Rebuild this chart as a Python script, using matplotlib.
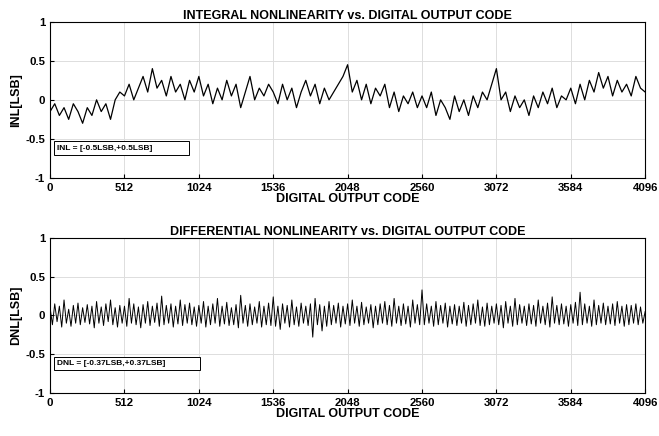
import numpy as np
import matplotlib
matplotlib.use("Agg")
import matplotlib.pyplot as plt

plt.rcParams['font.family'] = ['Liberation Sans', 'DejaVu Sans']

inl_step = 32
inl = [-0.15,-0.05,-0.2,-0.1,-0.25,-0.05,-0.15,-0.3,-0.1,-0.2,0.0,-0.15,-0.05,-0.25,0.0,0.1,
       0.05,0.2,0.0,0.15,0.3,0.1,0.4,0.15,0.25,0.05,0.3,0.1,0.2,0.0,0.25,0.1,
       0.3,0.05,0.2,-0.05,0.15,0.0,0.25,0.05,0.2,-0.1,0.1,0.3,0.0,0.15,0.05,0.2,
       0.1,-0.05,0.2,0.0,0.15,-0.1,0.1,0.25,0.05,0.2,-0.05,0.15,0.0,0.1,0.2,0.3,
       0.45,0.1,0.25,0.0,0.2,-0.05,0.15,0.05,0.2,-0.1,0.1,-0.15,0.05,-0.05,0.1,-0.1,
       0.05,-0.1,0.1,-0.2,0.0,-0.1,-0.25,0.05,-0.15,0.0,-0.2,0.05,-0.1,0.1,0.0,0.2,
       0.4,0.0,0.1,-0.15,0.05,-0.1,0.0,-0.2,0.05,-0.1,0.1,-0.05,0.15,-0.1,0.05,0.0,
       0.15,-0.05,0.2,0.0,0.25,0.1,0.35,0.15,0.3,0.05,0.25,0.1,0.2,0.05,0.3,0.15,0.1]

dnl_step = 16
dnl = [0.1,-0.12,0.15,-0.08,0.12,-0.15,0.2,-0.1,0.08,-0.14,0.13,-0.1,0.16,-0.12,0.1,-0.09,
       0.14,-0.11,0.12,-0.16,0.18,-0.1,0.11,-0.13,0.15,-0.08,0.2,-0.12,0.1,-0.15,0.13,-0.1,
       0.12,-0.14,0.22,-0.1,0.15,-0.12,0.11,-0.16,0.14,-0.1,0.18,-0.13,0.12,-0.09,0.16,-0.14,
       0.25,-0.12,0.13,-0.1,0.15,-0.15,0.12,-0.11,0.2,-0.13,0.14,-0.1,0.16,-0.12,0.11,-0.14,
       0.13,-0.1,0.18,-0.15,0.12,-0.12,0.15,-0.1,0.22,-0.14,0.12,-0.11,0.17,-0.13,0.1,-0.12,
       0.14,-0.16,0.26,-0.1,0.13,-0.14,0.15,-0.12,0.11,-0.1,0.18,-0.15,0.12,-0.12,0.16,-0.13,
       0.24,-0.14,0.12,-0.18,0.15,-0.1,0.13,-0.15,0.2,-0.12,0.11,-0.14,0.16,-0.1,0.12,-0.13,
       0.15,-0.28,0.22,-0.12,0.14,-0.2,0.12,-0.14,0.18,-0.12,0.13,-0.1,0.16,-0.15,0.12,-0.11,
       0.15,-0.13,0.2,-0.1,0.12,-0.14,0.17,-0.12,0.11,-0.1,0.14,-0.16,0.12,-0.12,0.15,-0.1,
       0.18,-0.12,0.13,-0.14,0.22,-0.1,0.12,-0.13,0.15,-0.11,0.12,-0.15,0.2,-0.1,0.14,-0.12,
       0.33,-0.12,0.15,-0.1,0.12,-0.14,0.18,-0.12,0.13,-0.1,0.16,-0.15,0.12,-0.11,0.14,-0.13,
       0.12,-0.1,0.17,-0.14,0.13,-0.12,0.15,-0.1,0.2,-0.13,0.11,-0.14,0.16,-0.12,0.12,-0.1,
       0.15,-0.12,0.13,-0.16,0.18,-0.1,0.12,-0.14,0.22,-0.12,0.14,-0.1,0.12,-0.13,0.15,-0.11,
       0.13,-0.14,0.2,-0.1,0.12,-0.12,0.16,-0.15,0.24,-0.1,0.13,-0.12,0.15,-0.11,0.12,-0.14,
       0.14,-0.1,0.17,-0.13,0.3,-0.12,0.15,-0.1,0.12,-0.14,0.2,-0.12,0.13,-0.1,0.16,-0.12,
       0.12,-0.11,0.15,-0.13,0.18,-0.1,0.12,-0.14,0.14,-0.12,0.13,-0.1,0.15,-0.12,0.11,-0.1,0.05]

xticks = [0,512,1024,1536,2048,2560,3072,3584,4096]
yticks = [-1,-0.5,0,0.5,1]
yticklabels = ['-1','-0.5','0','0.5','1']

fig = plt.figure(figsize=(6.59,4.36), dpi=100)
ax1 = fig.add_axes([0.076,0.592,0.903,0.358])
ax2 = fig.add_axes([0.076,0.099,0.903,0.355])

def style(ax, title, ylabel, box):
    ax.set_xlim(0,4096); ax.set_ylim(-1,1)
    ax.set_xticks(xticks); ax.set_yticks(yticks); ax.set_yticklabels(yticklabels)
    ax.grid(True, color='#dddddd', lw=0.7)
    ax.set_axisbelow(True)
    for lab in ax.get_xticklabels()+ax.get_yticklabels():
        lab.set_fontweight('bold'); lab.set_fontsize(8.2)
    ax.tick_params(direction='in', length=3)
    ax.set_title(title, fontsize=9, fontweight='bold', pad=2)
    ax.set_xlabel('DIGITAL OUTPUT CODE', fontsize=9, fontweight='bold', labelpad=0)
    ax.set_ylabel(ylabel, fontsize=9, fontweight='bold', labelpad=2)
    ax.text(0.012,0.19,box, transform=ax.transAxes, fontsize=6, fontweight='bold',
            va='center', bbox=dict(boxstyle='square,pad=0.4', fc='white', ec='black', lw=0.7))

ax1.plot(np.arange(len(inl))*inl_step, inl, color='black', lw=0.9)
ax2.plot(np.arange(len(dnl))*dnl_step, dnl, color='black', lw=0.7)
style(ax1,'INTEGRAL NONLINEARITY vs. DIGITAL OUTPUT CODE','INL[LSB]','INL = [-0.5LSB,+0.5LSB]              ')
style(ax2,'DIFFERENTIAL NONLINEARITY vs. DIGITAL OUTPUT CODE','DNL[LSB]','DNL = [-0.37LSB,+0.37LSB]             ')
fig.savefig('out.png', dpi=100)
